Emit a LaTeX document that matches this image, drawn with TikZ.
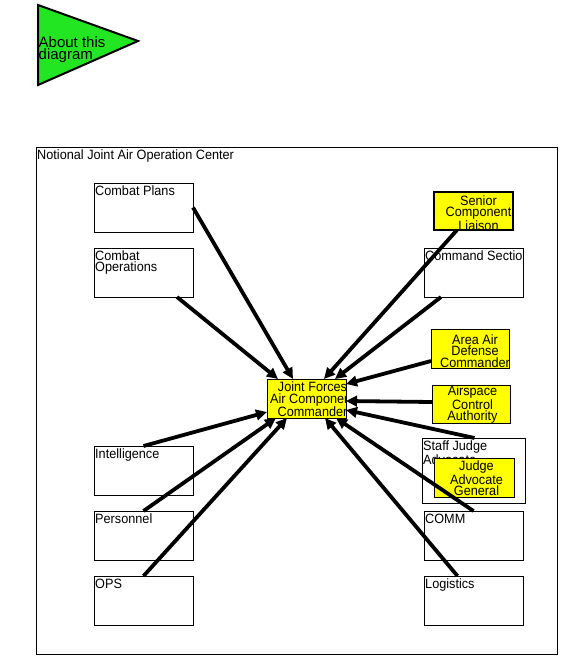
\documentclass[tikz,border=0pt]{standalone}
\usepackage{fontspec}
\setmainfont{Liberation Sans}
\newfontfamily\boxfont[FakeStretch=0.94]{Liberation Sans}
\usetikzlibrary{arrows.meta,calc}
\definecolor{jyellow}{RGB}{255,255,0}
\definecolor{jgreen}{RGB}{34,230,34}
\newcommand{\myWlab}[3]{%
  \begin{scope}
    \clip (#1.north west) rectangle (#1.south east);
    \node[wtxt] (#2) at ([xshift=1pt,yshift=-2.5pt]#1.north west) {#3};
  \end{scope}}
\newcommand{\myYlab}[5]{%
  \begin{scope}
    \clip (#1.north west) rectangle (#1.south east);
    \node[ytxt] (#2) at ([xshift=#3pt,yshift=-#4pt]#1.center) {#5};
  \end{scope}}
\begin{document}
\begin{tikzpicture}[x=1pt,y=-1pt,
  wtxt/.style={anchor=north west,inner sep=0pt,align=left,font=\boxfont\fontsize{13.5}{11.5}\selectfont},
  ytxt/.style={anchor=center,inner sep=0pt,align=center,font=\boxfont\fontsize{13.5}{11.3}\selectfont},
  wbox/.style={draw=black,line width=1pt,fill=white,minimum width=99pt,minimum height=49pt,anchor=north west,inner sep=0pt,outer sep=0pt},
  ybox/.style={draw=black,line width=1pt,fill=jyellow,anchor=north west,inner sep=0pt,outer sep=0pt},
  arr/.style={line width=3.8pt,-{Triangle[length=11pt,width=10.5pt]}}
]
\useasboundingbox (0,0) rectangle (578,664);
% about triangle
\draw[line width=2pt,fill=jgreen,line join=miter] (38,5) -- (138,41) -- (38,85) -- cycle;
\node[anchor=north west,inner sep=0pt,align=left,font=\fontsize{15}{12.5}\selectfont] (about) at (38.5,36) {About this\\diagram};
% frame
\node[draw=black,line width=1pt,minimum width=521pt,minimum height=507pt,anchor=north west,inner sep=0pt,outer sep=0pt] (frame) at (36,147) {};
\node[wtxt] (title) at (37,150) {Notional Joint Air Operation Center};
% left boxes
\node[wbox] (cp) at (94,183) {};
\myWlab{cp}{cpt}{Combat Plans}
\node[wbox] (co) at (94,248) {};
\myWlab{co}{cot}{Combat\\Operations}
\node[wbox] (intel) at (94,446) {};
\myWlab{intel}{intelt}{Intelligence}
\node[wbox] (pers) at (94,511) {};
\myWlab{pers}{perst}{Personnel}
\node[wbox] (ops) at (94,576) {};
\myWlab{ops}{opst}{OPS}
% right boxes
\node[wbox] (cs) at (424,248) {};
\myWlab{cs}{cst}{Command Section}
\node[wbox,minimum width=103pt,minimum height=65pt] (sja) at (422,438) {};
\myWlab{sja}{sjat}{Staff Judge\\Advocate}
\node[wbox] (comm) at (424,511) {};
\myWlab{comm}{commt}{COMM}
\node[wbox] (logi) at (424,576) {};
\myWlab{logi}{logit}{Logistics}
% yellow boxes
\node[ybox,line width=2pt,minimum width=79pt,minimum height=38pt] (scl) at (434,192) {};
\myYlab{scl}{sclt}{5}{2}{Senior\\Component\\Liaison}
\node[ybox,minimum width=78pt,minimum height=39pt] (aadc) at (431,329) {};
\myYlab{aadc}{aadct}{5}{2.5}{Area Air\\Defense\\Commander}
\node[ybox,minimum width=78pt,minimum height=38pt] (aca) at (432,385) {};
\myYlab{aca}{acat}{1.5}{0.5}{Airspace\\Control\\Authority}
\node[ybox,minimum width=80pt,minimum height=39pt] (jag) at (434,458) {};
\myYlab{jag}{jagt}{2.5}{1}{Judge\\Advocate\\General}
\node[ybox,minimum width=79pt,minimum height=39pt] (jf) at (267,379) {};
\myYlab{jf}{jft}{6}{1}{Joint Forces\\Air Component\\Commander}
% arrows
\draw[arr] (cp.east) -- ($(jf.north west)+(26,0)$);
\draw[arr] ($(co.south west)+(83,0)$) -- ($(jf.north west)+(11,0)$);
\draw[arr] (intel.north) -- ($(jf.south west)+(0,-6)$);
\draw[arr] (pers.north) -- ($(jf.south west)+(9,0)$);
\draw[arr] (ops.north) -- ($(jf.south west)+(20,0)$);
\draw[arr] ($(scl.south west)+(23,0)$) -- ($(jf.north west)+(57,0)$);
\draw[arr] ($(cs.south west)+(17,0)$) -- ($(jf.north west)+(68,0)$);
\draw[arr] ($(aadc.south west)+(0,-7)$) -- ($(jf.north east)+(0,5)$);
\draw[arr] ($(aca.west)+(0,-2)$) -- ($(jf.east)+(0,2.5)$);
\draw[arr] ($(sja.north)+(1,0)$) -- ($(jf.south east)+(0,-8)$);
\draw[arr] (comm.north) -- ($(jf.south east)+(-10,0)$);
\draw[arr] ($(logi.north)+(-16,0)$) -- ($(jf.south east)+(-21,0)$);
\end{tikzpicture}
\end{document}
